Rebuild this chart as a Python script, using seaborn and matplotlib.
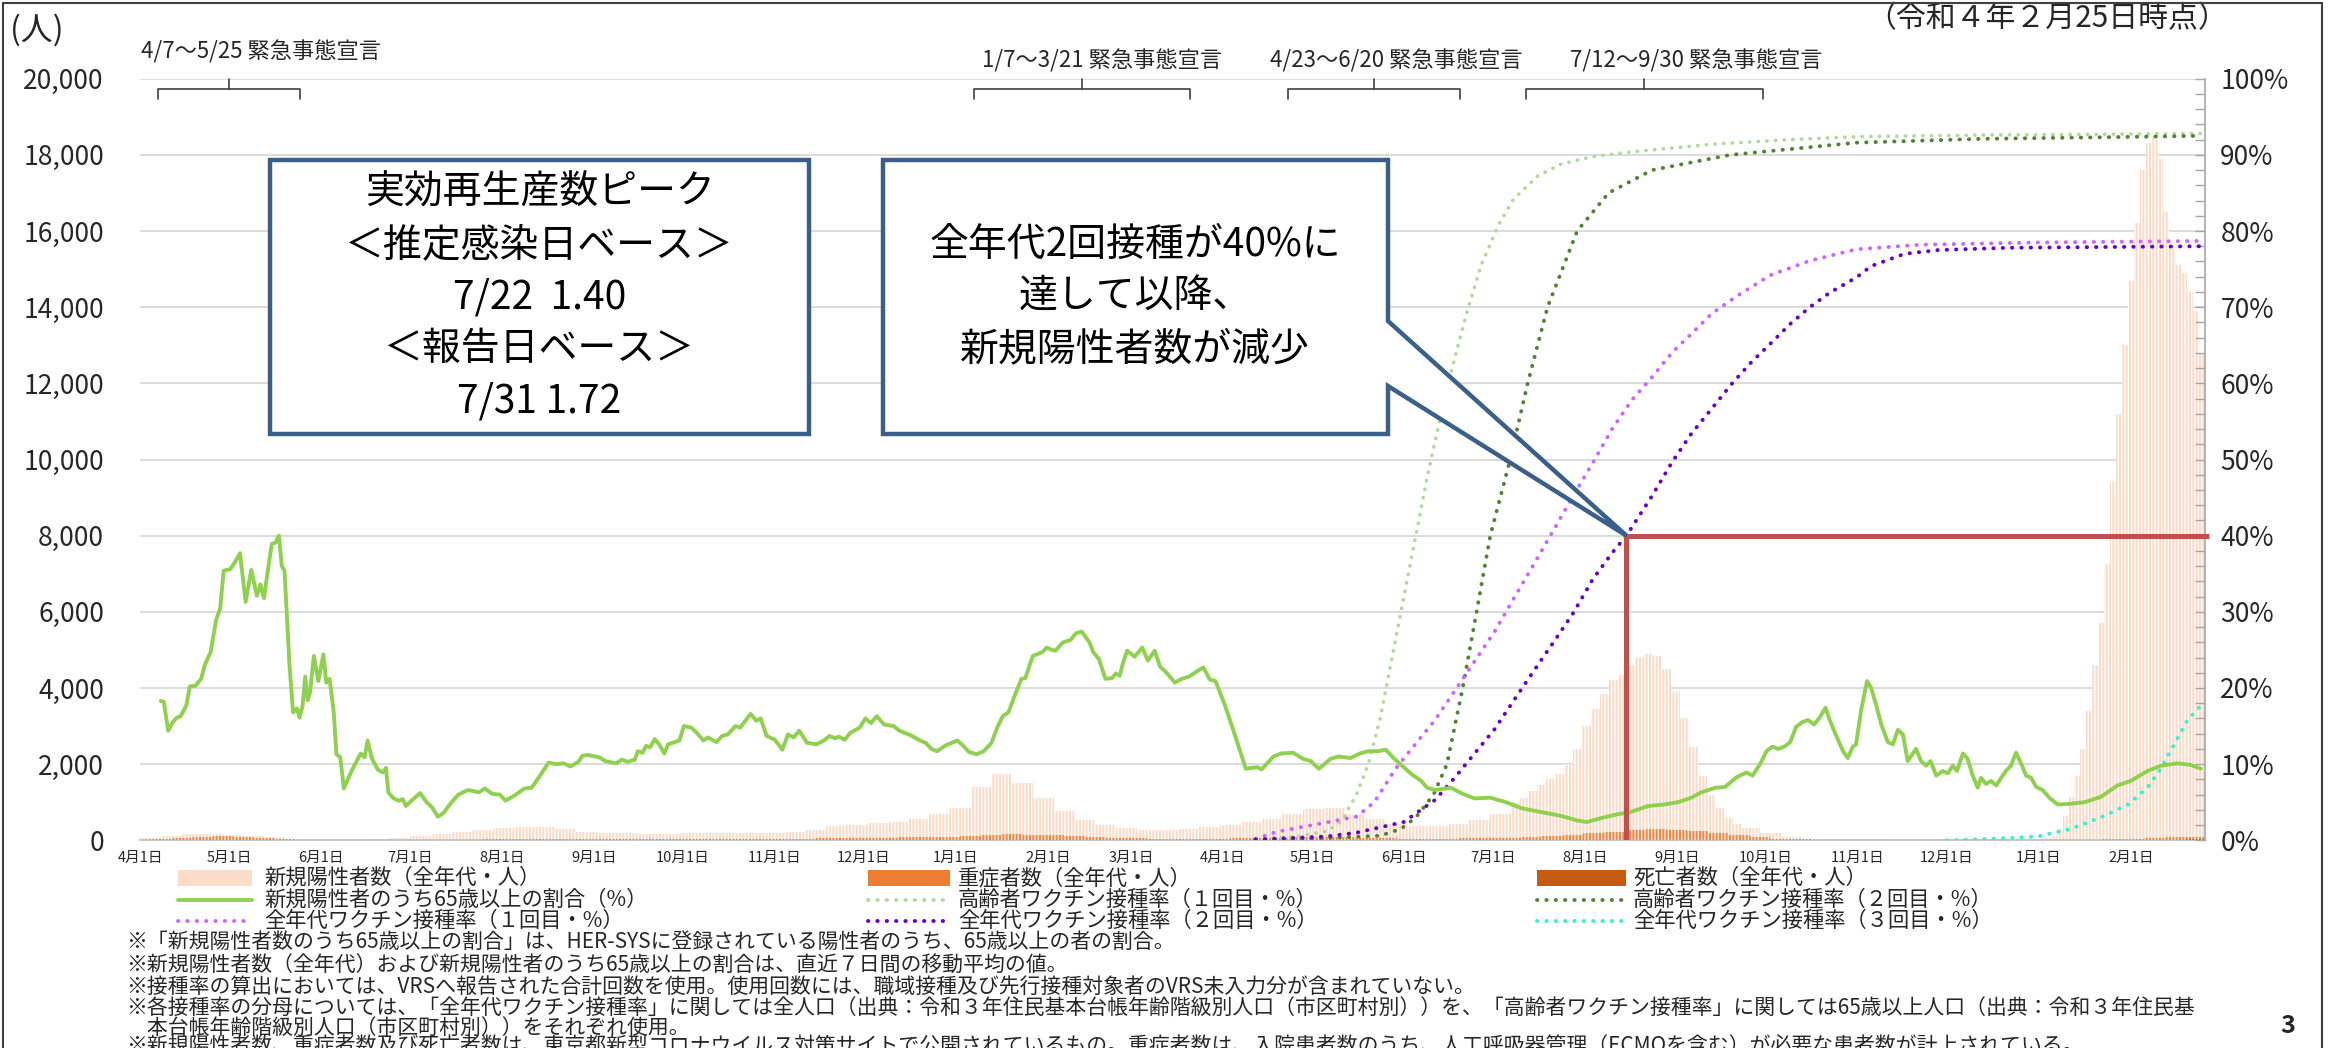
import numpy as np
import pandas as pd
import matplotlib
matplotlib.use("Agg")
import matplotlib.pyplot as plt
import seaborn as sns
import matplotlib.transforms as mtransforms
from matplotlib.patches import Rectangle, Polygon
from matplotlib.lines import Line2D
from matplotlib.ticker import FuncFormatter, MultipleLocator

# ---------------------------------------------------------------- data
START = pd.Timestamp("2020-04-01")

# new positives, 7-day average (persons); days since 2020-04-01 in four sampling segments
pos_days_seg = [range(0, 463, 7), range(465, 543, 3), range(546, 631, 7), range(636, 695, 2)]
new_cases = [
    # weekly, 2020-04-01 .. 2021-07-07
    60, 110, 160, 170, 150, 120, 80, 40, 15, 15,
    20, 30, 50, 100, 170, 230, 270, 320, 360, 340,
    290, 220, 190, 180, 175, 170, 180, 190, 180, 190,
    200, 220, 280, 370, 410, 450, 480, 560, 700, 850,
    1400, 1750, 1500, 1100, 770, 520, 400, 320, 270, 280,
    300, 340, 400, 480, 560, 700, 820, 860, 700, 560,
    420, 370, 370, 420, 530, 700, 1000,
    # every 3 days, 2021-07-10 .. 2021-09-24
    1100, 1300, 1450, 1600, 1750, 2000, 2400, 3000, 3450, 3850,
    4200, 4350, 4600, 4800, 4890, 4850, 4500, 3900, 3200, 2450,
    1700, 1200, 850, 580, 420, 320,
    # weekly, 2021-09-30 .. 2021-12-23
    180, 90, 45, 30, 25, 22, 20, 20, 18, 15, 18, 20, 25,
    # every 2 days, 2021-12-28 .. 2022-02-24
    35, 40, 45, 60, 120, 300, 650, 1150, 1700, 2400,
    3400, 4600, 5700, 7250, 9400, 11200, 13000, 14700, 16200, 17600,
    18300, 18500, 17900, 16500, 15600, 15100, 14900, 14400, 13900, 12800]

# weekly severe cases and deaths (7-day averages), week k at START + 7k days
severe = [20, 40, 60, 90, 100, 90, 60, 30, 15, 10,
          7, 5, 5, 7, 10, 15, 20, 22, 25, 30,
          35, 35, 30, 25, 25, 25, 25, 25, 30, 35,
          38, 40, 45, 55, 60, 65, 70, 75, 80, 90,
          110, 140, 155, 150, 130, 110, 90, 70, 55, 45,
          40, 40, 45, 50, 55, 60, 75, 80, 75, 65,
          55, 45, 40, 45, 50, 60, 70, 80, 100, 130,
          180, 230, 275, 290, 280, 240, 180, 130, 80, 45,
          25, 15, 10, 8, 5, 4, 3, 3, 3, 3,
          3, 4, 5, 10, 15, 25, 45, 70, 80, 85]
deaths = [1, 3, 5, 6, 6, 5, 3, 2, 1, 1,
          0.5, 0.5, 0.5, 0.5, 0.5, 1, 1, 2, 2, 2,
          2, 2, 2, 2, 1, 1, 1, 1, 1, 1,
          1, 1, 2, 2, 3, 3, 3, 4, 5, 6,
          8, 12, 15, 18, 18, 15, 12, 9, 7, 5,
          4, 4, 3, 3, 3, 3, 3, 3, 3, 3,
          3, 2, 2, 2, 2, 1, 1, 1, 2, 3,
          5, 8, 10, 12, 14, 12, 10, 7, 4, 2,
          1, 0.5, 0.3, 0.3, 0.2, 0.2, 0.2, 0.2, 0.2, 0.2,
          0.2, 0.3, 0.5, 1, 2, 5, 10, 16, 20, 22]

# share of 65+ among new positives (%), (days since 2020-04-01, %)
green_points = [
    (7, 18.3), (8, 18.2), (9.5, 14.4), (11, 15.5), (12.4, 16.1), (13.7, 16.3), (15.6, 17.7),
    (16.8, 20.2), (18.7, 20.3), (20.6, 21.2), (21.9, 23.1), (23.8, 24.7), (25.7, 29.0), (27, 30.4),
    (28.2, 35.4), (30.4, 35.6), (32, 36.5), (33.7, 37.7), (35.6, 31.3), (37.5, 35.5), (39.4, 32.1),
    (40.6, 33.6), (41.8, 31.8), (43, 35.2), (44.4, 38.9), (45.7, 39.1), (46.8, 40.0), (47.8, 36.0),
    (48.7, 35.4), (50.4, 22.9), (51.6, 16.8), (52.9, 17.3), (53.8, 16.1), (54.8, 17.7), (55.7, 21.5),
    (56.5, 18.4), (57.3, 19.4), (58.6, 24.2), (60.1, 20.9), (61.8, 24.4), (62.8, 20.7), (63.9, 21.2),
    (65.3, 16.8), (66.2, 11.3), (67.5, 10.9), (68.7, 6.8), (70.6, 8.5), (72.2, 9.8), (74.4, 11.4),
    (75.7, 10.9), (76.7, 13.1), (78.2, 10.7), (80.1, 9.3), (81.8, 8.9), (82.9, 9.5), (83.7, 6.3),
    (85.2, 5.6), (87.1, 5.2), (88.6, 5.4), (89.6, 4.5), (91.5, 5.2), (94.4, 6.2), (96.6, 5.0),
    (98.5, 4.3), (100.4, 3.1), (102.3, 3.6), (104.8, 4.9), (107.3, 6.0), (110.5, 6.6), (114.3, 6.3),
    (116.2, 6.8), (118.7, 6.1), (121.3, 6.0), (123.2, 5.2), (126.3, 5.9), (129.5, 6.8), (132, 6.9),
    (135.2, 8.7), (137.7, 10.2), (140.3, 10.0), (142.8, 10.1), (145.1, 9.7), (147.8, 10.3),
    (149.1, 11.1), (151, 11.2), (154.8, 10.9), (156.8, 10.4), (160.5, 10.1), (162.4, 10.6),
    (164.3, 10.3), (166.8, 10.6), (167.8, 11.7), (169.4, 11.5), (170.6, 12.4), (171.9, 12.2),
    (173.5, 13.3), (175, 12.6), (176.7, 11.4), (178, 12.6), (179.5, 12.8), (181.8, 13.1),
    (183.3, 15.0), (185.8, 14.8), (187.7, 14.1), (189.9, 13.1), (191.4, 13.5), (194.3, 12.9),
    (196.2, 13.7), (198.1, 13.9), (200.7, 15.0), (202.3, 14.8), (205.8, 16.6), (207.7, 15.7),
    (209.2, 16.0), (211.2, 13.7), (214, 13.2), (216.5, 11.9), (218.4, 13.9), (220.3, 13.5),
    (222.2, 14.4), (224.8, 12.8), (228, 12.6), (230.5, 13.1), (232.4, 13.7), (234.3, 13.4),
    (235.6, 13.6), (237.5, 13.2), (239.4, 14.1), (242.6, 14.8), (244.5, 16.0), (246.4, 15.4),
    (248.3, 16.3), (250.8, 15.2), (254, 15.0), (255.9, 14.4), (259.7, 13.8), (262.9, 13.1),
    (264.8, 12.8), (266.7, 12.0), (268.6, 11.7), (271.7, 12.5), (275.5, 13.1), (277.5, 12.4),
    (279.4, 11.6), (281.9, 11.3), (284.4, 11.7), (287, 12.8), (288.9, 14.8), (290.8, 16.3),
    (292.7, 16.8), (295.2, 19.4), (297.1, 21.2), (298.4, 21.3), (300.9, 24.2), (304.1, 24.7),
    (305.6, 25.3), (307.3, 25.0), (308.5, 24.9), (311.1, 26.0), (313.6, 26.3), (315.5, 27.2),
    (317.4, 27.4), (320, 26.0), (321.3, 24.7), (323.2, 23.8), (325.4, 21.2), (327.6, 21.3),
    (328.9, 21.9), (330.2, 21.6), (331.4, 23.4), (332.7, 24.9), (335.2, 24.1), (337.8, 25.3),
    (339.7, 23.6), (342, 24.9), (343.8, 22.8), (346, 22.0), (348.8, 20.7), (351.1, 21.2),
    (353.6, 21.5), (355.9, 22.1), (358.4, 22.7), (360.6, 21.1), (362.5, 20.9), (365.7, 17.7),
    (368.8, 14.1), (372.7, 9.4), (376.6, 9.6), (378, 9.3), (382, 11.0), (384.6, 11.4),
    (388.6, 11.5), (392, 10.7), (394.6, 10.4), (397.3, 9.4), (401.3, 10.7), (403.9, 11.0),
    (407.9, 10.8), (411.2, 11.4), (413.9, 11.7), (417.2, 11.7), (419.9, 11.9), (422.5, 10.8),
    (425.9, 9.6), (428.5, 8.7), (431.8, 7.8), (433.8, 6.9), (436.5, 6.6), (441.8, 6.9),
    (445.8, 6.1), (449.8, 5.5), (455.1, 5.6), (460.4, 5.0), (465.7, 4.2), (472.4, 3.7),
    (479, 3.2), (484.4, 2.6), (487.7, 2.4), (492.3, 2.9), (497.7, 3.4), (502.3, 3.7),
    (508.3, 4.5), (513.6, 4.7), (518.3, 5.0), (522.9, 5.6), (526.2, 6.3), (530.9, 6.9),
    (534.2, 7.0), (538.2, 8.3), (541.5, 8.9), (543.5, 8.5), (546.2, 10.1), (548.2, 11.7),
    (550.2, 12.3), (552.2, 12.0), (554.2, 12.3), (556.2, 12.9), (558.2, 14.9), (560.2, 15.5),
    (562.2, 15.8), (564.2, 15.2), (566.1, 16.1), (568.1, 17.4), (569.5, 15.8), (571.5, 13.9),
    (574, 11.7), (575.6, 10.8), (577.3, 12.3), (578.4, 12.6), (580.1, 17.1), (582.1, 20.9),
    (583.5, 20.0), (585.2, 17.7), (586.9, 15.2), (589.1, 12.9), (590.8, 12.6), (592.5, 14.5),
    (594.2, 13.9), (595.8, 10.4), (598.6, 12.0), (600.3, 10.4), (602, 9.8), (603.5, 10.4),
    (605.4, 8.5), (607.6, 9.1), (609.3, 8.8), (611, 9.8), (612.4, 9.1), (614.4, 11.4),
    (616, 10.7), (617.7, 8.5), (619.4, 6.9), (620.5, 8.2), (622.2, 7.4), (623.9, 7.8),
    (625.6, 7.2), (627.3, 8.2), (628.9, 9.1), (630.6, 9.8), (632.3, 11.5), (634, 10.1),
    (635.7, 8.5), (637.4, 8.2), (639.1, 7.0), (641.3, 6.6), (643.5, 5.6), (646.3, 4.7),
    (650.8, 4.8), (655.3, 5.0), (660.9, 5.7), (666.5, 7.2), (671, 7.8), (676.6, 9.1),
    (681.1, 9.8), (686.7, 10.1), (691.2, 9.9), (694.6, 9.4)]

# vaccination rates (%), (days since 2020-04-01, %)
elderly_1st = [(376, 0.2), (390, 0.5), (400, 1.2), (405, 2.5), (410, 6.0), (414, 10), (418, 16),
               (422, 24), (426, 32), (430, 40), (434, 48), (438, 55), (442, 61.7), (447, 69),
               (452, 75.5), (458, 80.9), (463, 84.2), (471, 87.2), (479, 88.8), (490, 89.8),
               (503, 90.4), (530, 91.4), (556, 92.0), (580, 92.4), (620, 92.6), (660, 92.7), (695, 92.8)]
elderly_2nd = [(376, 0.1), (400, 0.3), (418, 0.6), (425, 1.5), (430, 3), (436, 6), (440.5, 10),
               (445.8, 20), (450.5, 30), (455.1, 40), (461.8, 50), (467.7, 60), (474.4, 70),
               (484.4, 80), (495, 85), (509.6, 88), (536, 90), (578.5, 91.6), (620, 92.1),
               (660, 92.3), (695, 92.5)]
all_1st = [(376, 0.2), (383, 1.1), (410, 3.1), (416, 5), (423.2, 9.4), (429.8, 12.6), (436.5, 15.8),
           (443.1, 19.6), (449.8, 23.5), (456.4, 27.3), (463.1, 31.8), (469.7, 36.2), (476.4, 40.7),
           (483, 45.2), (489.7, 49.6), (496.3, 54.1), (503, 57.9), (509.6, 60.8), (516.3, 64.0),
           (522.9, 66.5), (529.6, 69.1), (537.6, 71.3), (549.5, 74.2), (562.8, 76.1), (578.5, 77.6),
           (600, 78.2), (640, 78.5), (695, 78.7)]
all_2nd = [(376, 0.1), (400, 0.5), (410, 1.0), (425.9, 2.4), (436.5, 5.3), (443.1, 8.2), (449.8, 11.4),
           (456.4, 14.5), (463.1, 18.4), (469.7, 22.2), (476.4, 26.0), (483, 29.8), (489.7, 34.3),
           (496.3, 37.8), (501, 40.0), (509.6, 45.2), (516.3, 49.6), (522.9, 53.4), (529.6, 56.6),
           (536.2, 59.8), (542.9, 62.7), (549.5, 65.2), (556.2, 67.8), (562.8, 70.0), (569.5, 71.9),
           (578.5, 73.9), (583.5, 75.4), (594.7, 77.0), (606, 77.5), (630, 77.8), (695, 78.0)]
all_3rd = [(609, 0), (625, 0.2), (639.6, 0.5), (650.8, 1.5), (662, 3.2), (670, 4.7), (676.6, 6.9),
           (681.1, 9.4), (685.6, 12.6), (690.1, 15.8), (694.6, 17.7)]

# emergency declarations
decl_start = ["2020-04-07", "2021-01-07", "2021-04-23", "2021-07-12"]
decl_end = ["2020-05-25", "2021-03-21", "2021-06-20", "2021-09-30"]
decl_labels = ["4/7～5/25 緊急事態宣言", "1/7～3/21 緊急事態宣言",
               "4/23～6/20 緊急事態宣言", "7/12～9/30 緊急事態宣言"]

# date when 2nd dose (all ages) reached 40%
vacc40_date = "2021-08-15"
vacc40_level = 40

# ---------------------------------------------------------------- style
sns.set_theme(style="white")
plt.rcParams["font.family"] = ["Noto Sans CJK JP", "DejaVu Sans"]
plt.rcParams["hatch.linewidth"] = 0.9

W, H = 2328, 1048
fig = plt.figure(figsize=(W / 100, H / 100), dpi=100)
fig.patch.set_facecolor("white")


def fx(px):
    return px / W


def fy(py):
    return 1 - py / H


AX_L, AX_R, AX_T, AX_B = 140, 2205, 78.7, 840.3
ax = fig.add_axes([fx(AX_L), fy(AX_B), (AX_R - AX_L) / W, (AX_B - AX_T) / H])
ax2 = ax.twinx()


def days(d):
    return (pd.Timestamp(d) - START).days


pos_x = np.concatenate([np.array(list(r)) for r in pos_days_seg])
pos_w = np.append(np.diff(pos_x), 2)
week_x = (pd.date_range(START, periods=len(severe), freq="7D") - START).days.values

C_POS = "#FADCC9"
C_SEV = "#ED7D31"
C_DEA = "#C55A11"
C_GREEN = "#8FD14F"
C_E1 = "#B3D99A"
C_E2 = "#548235"
C_A1 = "#CC66FF"
C_A2 = "#6600CC"
C_A3 = "#33F5CC"

STRIPE = "|||||"
ax.bar(pos_x, new_cases, width=pos_w, align="edge", color=C_POS, edgecolor="white",
       linewidth=0, hatch=STRIPE, zorder=2)
ax.bar(week_x - 3.5, severe, width=7, align="edge", color=C_SEV, edgecolor="white",
       linewidth=0, hatch=STRIPE, zorder=3, alpha=0.85)
ax.bar(week_x - 3.5, deaths, width=7, align="edge", color=C_DEA, edgecolor="white",
       linewidth=0, hatch=STRIPE, zorder=4)

DOT = (0, (0.1, 2.3))
VLW = 2.8


def vline(points, color, lw=VLW):
    d, v = zip(*points)
    df = pd.DataFrame({"day": d, "pct": v})
    sns.lineplot(data=df, x="day", y="pct", ax=ax2, color=color, linewidth=lw,
                 linestyle=DOT, dash_capstyle="round", zorder=4)


vline(elderly_1st, C_E1, 2.6)
vline(elderly_2nd, C_E2)
vline(all_1st, C_A1)
vline(all_2nd, C_A2)
vline(all_3rd, C_A3)

g_day, g_pct = zip(*green_points)
sns.lineplot(data=pd.DataFrame({"day": g_day, "pct": g_pct}), x="day", y="pct", ax=ax2,
             color=C_GREEN, linewidth=2.8, zorder=5)

# red 40% marker lines
rd = days(vacc40_date)
ax2.plot([rd, rd], [0, vacc40_level], color="#C0504D", lw=3.6, zorder=6, solid_capstyle="butt")
ax2.plot([rd, 697.5], [vacc40_level, vacc40_level], color="#C0504D", lw=3.6, zorder=6,
         clip_on=False, solid_capstyle="butt")

# ---------------------------------------------------------------- axes
XMIN, XMAX = 0, 696
ax.set_xlim(XMIN, XMAX)
ax2.set_xlim(XMIN, XMAX)
ax.set_ylim(0, 20000)
ax2.set_ylim(0, 100)
ax.set_xlabel("")
ax.set_ylabel("")
ax2.set_xlabel("")
ax2.set_ylabel("")

ax.set_yticks(np.arange(0, 20001, 2000))
ax.yaxis.set_major_formatter(FuncFormatter(lambda v, p: f"{v:,.0f}"))
ax.yaxis.grid(True, color="#D9D9D9", linewidth=1.3)
ax.xaxis.grid(False)
ax.set_axisbelow(True)
ax.tick_params(axis="y", length=0, pad=26, labelsize=19, labelcolor="#262626")

months = pd.date_range("2020-04-01", "2022-02-01", freq="MS")
ax.set_xticks((months - START).days)
ax.set_xticklabels([f"{m.month}月1日" for m in months])
ax.tick_params(axis="x", length=6, width=1, direction="out", color="#BFBFBF",
               labelsize=10.5, labelcolor="#262626", pad=2)

for s in ["left", "top", "right"]:
    ax.spines[s].set_visible(False)
ax.spines["bottom"].set_color("#BFBFBF")
ax.spines["bottom"].set_linewidth(1.2)
for s in ["left", "top", "bottom"]:
    ax2.spines[s].set_visible(False)
ax2.spines["right"].set_color("#A6A6A6")
ax2.spines["right"].set_linewidth(1.2)

ax2.set_yticks(np.arange(0, 101, 10))
ax2.yaxis.set_minor_locator(MultipleLocator(2))
ax2.yaxis.set_major_formatter(FuncFormatter(lambda v, p: f"{v:.0f}%"))
ax2.tick_params(axis="y", which="both", direction="in", length=7, width=1, color="#A6A6A6",
                labelsize=19, labelcolor="#262626", pad=11)

# ---------------------------------------------------------------- declaration brackets
trans = mtransforms.blended_transform_factory(ax.transData, ax.transAxes)
y_h, y_e, y_t = 0.9865, 0.9727, 0.9996
for s, e in zip(decl_start, decl_end):
    a, b = days(s), days(e)
    m = (a + b) / 2
    ax.plot([a, a, b, b], [y_e, y_h, y_h, y_e], transform=trans, color="#404040", lw=1.2,
            clip_on=False, zorder=7)
    ax.plot([m, m], [y_h, y_t], transform=trans, color="#404040", lw=1.2, clip_on=False, zorder=7)

decl_pos = [(261, 52), (1102, 61), (1396, 61), (1696, 61)]
for (px, py), lab in zip(decl_pos, decl_labels):
    fig.text(fx(px), fy(py), lab, ha="center", va="center", fontsize=16, color="#262626")

fig.text(fx(10), fy(30), "(人)", ha="left", va="center", fontsize=23, color="#262626")
fig.text(fx(2228), fy(19), "（令和４年２月25日時点）", ha="right", va="center", fontsize=21.5,
         color="#262626")

# ---------------------------------------------------------------- callout boxes
BOX_EC = "#3A5F8A"
b1 = Rectangle((fx(270), fy(434)), (809 - 270) / W, (434 - 160) / H, transform=fig.transFigure,
               facecolor="white", edgecolor=BOX_EC, linewidth=3.2, zorder=10)
fig.add_artist(b1)
box1_lines = ["実効再生産数ピーク", "＜推定感染日ベース＞", "7/22  1.40", "＜報告日ベース＞", "7/31 1.72"]
for i, t in enumerate(box1_lines):
    fig.text(fx(539.5), fy(193 + 52 * i), t, ha="center", va="center", fontsize=28,
             color="black", zorder=11)

pt_disp = ax2.transData.transform((rd, vacc40_level))
ptx, pty = fig.transFigure.inverted().transform(pt_disp)
poly = [(fx(883), fy(160)), (fx(1388), fy(160)), (fx(1388), fy(321)), (ptx, pty),
        (fx(1388), fy(386)), (fx(1388), fy(434)), (fx(883), fy(434))]
b2 = Polygon(poly, closed=True, transform=fig.transFigure, facecolor="white", edgecolor=BOX_EC,
             linewidth=3.2, joinstyle="miter", zorder=10)
fig.add_artist(b2)
box2_lines = ["全年代2回接種が40%に", "達して以降、", "新規陽性者数が減少"]
for i, t in enumerate(box2_lines):
    fig.text(fx(1135), fy(245 + 52 * i), t, ha="center", va="center", fontsize=28,
             color="black", zorder=11)

# ---------------------------------------------------------------- legend (manual layout)
rows = [878, 899.5, 921]
cols = [(178, 252, 264), (868, 950, 958), (1537, 1626, 1633)]
entries = [
    (0, 0, "patch", C_POS, "新規陽性者数（全年代・人）"),
    (1, 0, "patch", C_SEV, "重症者数（全年代・人）"),
    (2, 0, "patch", C_DEA, "死亡者数（全年代・人）"),
    (0, 1, "solid", C_GREEN, "新規陽性者のうち65歳以上の割合（%）"),
    (1, 1, "dot", C_E1, "高齢者ワクチン接種率（１回目・%）"),
    (2, 1, "dot", C_E2, "高齢者ワクチン接種率（２回目・%）"),
    (0, 2, "dot", C_A1, "全年代ワクチン接種率（１回目・%）"),
    (1, 2, "dot", C_A2, "全年代ワクチン接種率（２回目・%）"),
    (2, 2, "dot", C_A3, "全年代ワクチン接種率（３回目・%）"),
]
for c, r, kind, color, label in entries:
    x0, x1, xt = cols[c]
    y = rows[r]
    if kind == "patch":
        fig.add_artist(Rectangle((fx(x0), fy(y + 8)), (x1 - x0) / W, 16 / H,
                                 transform=fig.transFigure, facecolor=color, edgecolor="none"))
    elif kind == "solid":
        fig.add_artist(Line2D([fx(x0), fx(x1)], [fy(y), fy(y)], transform=fig.transFigure,
                              color=color, lw=2.8))
    else:
        fig.add_artist(Line2D([fx(x0), fx(x1)], [fy(y), fy(y)], transform=fig.transFigure,
                              color=color, lw=VLW, linestyle=DOT, dash_capstyle="round"))
    fig.text(fx(xt), fy(y), label, ha="left", va="center", fontsize=15.3, color="#262626")

# ---------------------------------------------------------------- footnotes
notes = [
    "※「新規陽性者数のうち65歳以上の割合」は、HER-SYSに登録されている陽性者のうち、65歳以上の者の割合。",
    "※新規陽性者数（全年代）および新規陽性者のうち65歳以上の割合は、直近７日間の移動平均の値。",
    "※接種率の算出においては、VRSへ報告された合計回数を使用。使用回数には、職域接種及び先行接種対象者のVRS未入力分が含まれていない。",
    "※各接種率の分母については、「全年代ワクチン接種率」に関しては全人口（出典：令和３年住民基本台帳年齢階級別人口（市区町村別））を、「高齢者ワクチン接種率」に関しては65歳以上人口（出典：令和３年住民基",
    "\u3000本台帳年齢階級別人口（市区町村別））をそれぞれ使用。",
    "※新規陽性者数、重症者数及び死亡者数は、東京都新型コロナウイルス対策サイトで公開されているもの。重症者数は、入院患者数のうち、人工呼吸器管理（ECMOを含む）が必要な患者数が計上されている。",
]
note_y = [942, 964.5, 986.5, 1008, 1027.5, 1046]
for t, y in zip(notes, note_y):
    fig.text(fx(126), fy(y), t, ha="left", va="center", fontsize=15, color="#262626")

fig.text(fx(2288), fy(1026), "3", ha="center", va="center", fontsize=18, fontweight="bold",
         color="#262626")

# slide frame
fig.add_artist(Rectangle((fx(3), -0.05), (2322 - 3) / W, 1.05 - 3 / H, transform=fig.transFigure,
                         fill=False, edgecolor="#404040", linewidth=1.5, zorder=20))

fig.savefig("out.png", dpi=100, facecolor="white")
